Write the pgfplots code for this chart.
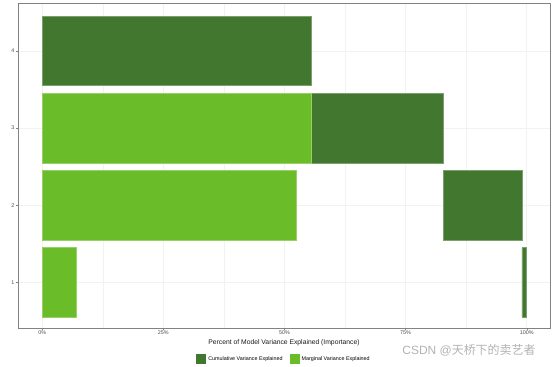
\documentclass[border=0pt]{standalone}
\usepackage{fontspec}
\setmainfont{Liberation Sans}
\newfontfamily\cjk{Noto Sans CJK SC}
\usepackage{pgfplots}
\pgfplotsset{compat=1.18}
\definecolor{cumgreen}{HTML}{42772F}
\definecolor{margreen}{HTML}{6ABC28}
\definecolor{gridc}{RGB}{242,242,242}
\definecolor{borderc}{RGB}{130,130,130}
\begin{document}
\begin{tikzpicture}
\useasboundingbox (0,0) rectangle (554bp,367bp);
\begin{axis}[
  at={(18bp,39bp)}, anchor=south west,
  scale only axis, width=532bp, height=325bp,
  xbar stacked, bar width=0.9,
  xmin=-5, xmax=104.8, ymin=0.41, ymax=4.62,
  xtick={0,25,50,75,100},
  xticklabels={0\%,25\%,50\%,75\%,100\%},
  minor xtick={12.5,37.5,62.5,87.5},
  ytick={1,2,3,4},
  xtick pos=bottom, ytick pos=left,
  /pgf/number format/assume math mode=true,
  tick label style={font=\fontsize{5.4}{6}\selectfont, text=black!70},
  xticklabel style={inner sep=1bp},
  yticklabel style={inner sep=1.5bp},
  tick align=outside, major tick length=2bp, minor tick length=0pt,
  tick style={borderc, line width=0.4bp},
  xmajorgrids, ymajorgrids, xminorgrids,
  major grid style={gridc, line width=0.7bp},
  minor grid style={gridc, line width=0.4bp},
  axis line style={borderc, line width=0.7bp},
  axis background/.style={fill=white},
  xlabel={Percent of Model Variance Explained (Importance)},
  xlabel style={font=\fontsize{6.8}{8}\selectfont, text=black!90, at={(axis description cs:0.5,-0.046)}, anchor=center},
  legend style={at={(axis description cs:0.5,-0.0954)}, anchor=center, draw=none, fill=none,
    font=\fontsize{5.4}{6}\selectfont, legend columns=2,
    /tikz/every even column/.append style={column sep=5bp}},
  legend cell align=left,
  legend image code/.code={\fill[#1, draw=none] (0bp,-5bp) rectangle (10bp,5bp);},
]
\addlegendimage{fill=cumgreen, draw=none}
\addlegendentry{Cumulative Variance Explained}
\addlegendimage{fill=margreen, draw=none}
\addlegendentry{Marginal Variance Explained}
% marginal (light)
\addplot+[forget plot, fill=margreen, draw=margreen!70!white, line width=0.5bp] coordinates {(7.0,1) (52.4,2) (55.5,3) (0,4)};
% gap
\addplot+[forget plot, fill=none, draw=none] coordinates {(92.0,1) (30.4,2) (0,3) (0,4)};
% cumulative (dark)
\addplot+[forget plot, fill=cumgreen, draw=cumgreen!70!white, line width=0.5bp] coordinates {(1.0,1) (16.2,2) (27.3,3) (55.5,4)};
\end{axis}
\node[anchor=center, text=black!30, font=\fontsize{12}{14}\selectfont] at (469bp,17bp) {CSDN @{\cjk 天桥下的卖艺者}};
\end{tikzpicture}
\end{document}
